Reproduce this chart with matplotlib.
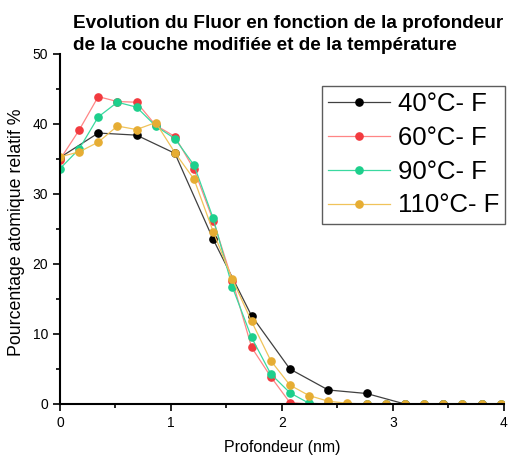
import numpy as np
import matplotlib
matplotlib.use("Agg")
import matplotlib.pyplot as plt
from matplotlib.ticker import MultipleLocator

plt.rcParams['font.family'] = ['Liberation Sans', 'DejaVu Sans']

# depth step between measurements (nm)
step = 0.1727
x_all = np.arange(24) * step
x_40 = x_all[::2]

y_40 = [35.2, 38.7, 38.4, 35.8, 23.5, 12.6, 5.0, 2.0, 1.5, 0, 0, 0]
y_60 = [34.9, 39.1, 43.9, 43.2, 43.1, 39.8, 38.2, 33.5, 26.2, 17.6, 8.1, 3.9,
        0.2, 0, 0, 0, 0, 0, 0, 0, 0, 0, 0, 0]
y_90 = [33.6, 36.4, 41.0, 43.1, 42.4, 39.7, 37.9, 34.1, 26.5, 16.7, 9.5, 4.3,
        1.6, 0.1, 0, 0, 0, 0, 0, 0, 0, 0, 0, 0]
y_110 = [35.3, 36.0, 37.4, 39.7, 39.2, 40.2, 35.9, 32.1, 24.6, 17.8, 11.8, 6.2,
         2.7, 1.2, 0.4, 0.1, 0, 0, 0, 0, 0, 0, 0, 0]

series = [
    ("40°C- F", x_40, y_40, "#000000", "#404040"),
    ("60°C- F", x_all, y_60, "#f23a3f", "#ff8585"),
    ("90°C- F", x_all, y_90, "#1dcf8c", "#3ad9a0"),
    ("110°C- F", x_all, y_110, "#e6ad33", "#f0c35a"),
]

fig = plt.figure(figsize=(5.12, 4.57), dpi=100)
ax = fig.add_axes([0.117, 0.116, 0.867, 0.766])

for label, xs, ys, mcol, lcol in series:
    ax.plot(xs, ys, '-', color=lcol, linewidth=0.9, marker='o', markersize=5.2,
            markerfacecolor=mcol, markeredgecolor=mcol, label=label)

ax.set_xlim(0, 4)
ax.set_ylim(0, 50)
ax.xaxis.set_major_locator(MultipleLocator(1))
ax.xaxis.set_minor_locator(MultipleLocator(0.5))
ax.yaxis.set_major_locator(MultipleLocator(10))
ax.yaxis.set_minor_locator(MultipleLocator(5))
ax.tick_params(which='major', direction='out', length=5, width=1.2, labelsize=10)
ax.tick_params(which='minor', direction='out', length=3, width=1.2)

for side in ['top', 'right']:
    ax.spines[side].set_visible(False)
for side in ['left', 'bottom']:
    ax.spines[side].set_linewidth(1.5)

ax.set_xlabel('Profondeur (nm)', fontsize=11.5, labelpad=7.5)
ax.set_ylabel('Pourcentage atomique relatif %', fontsize=12.8)
ax.yaxis.set_label_coords(-0.079, 0.49)

fig.text(0.143, 0.968, 'Evolution du Fluor en fonction de la profondeur\n'
         'de la couche modifiée et de la température',
         fontsize=13.7, fontweight='bold', ha='left', va='top', linespacing=1.4)

leg = ax.legend(loc='upper left', bbox_to_anchor=(0.59, 0.909), fontsize=18.5,
                frameon=True, fancybox=False, edgecolor='#333333',
                handlelength=2.4, handletextpad=0.3, labelspacing=0.38,
                borderpad=0.25, borderaxespad=0, markerscale=1.0)
leg.get_frame().set_linewidth(1.0)

fig.savefig('out.png', dpi=100)
